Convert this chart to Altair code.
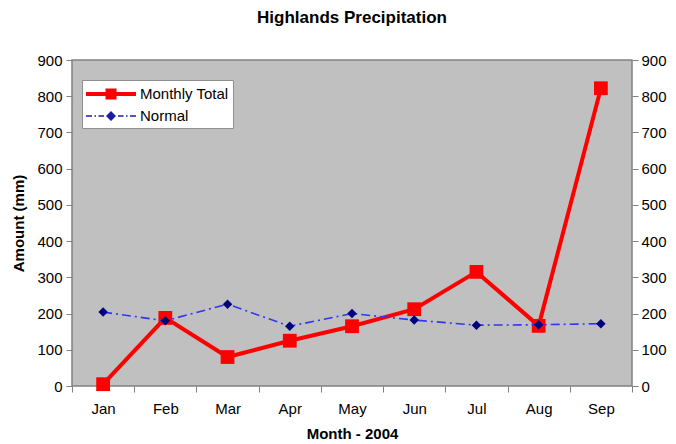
import altair as alt
import pandas as pd

months = ["Jan", "Feb", "Mar", "Apr", "May", "Jun", "Jul", "Aug", "Sep"]
monthly_total = [5, 188, 80, 125, 165, 212, 315, 166, 822]
normal = [204, 180, 226, 165, 200, 182, 168, 169, 172]
series_names = ["Monthly Total", "Normal"]

rows = []
for m, v in zip(months, monthly_total):
    rows.append({"month": m, "series": series_names[0], "value": v})
for m, v in zip(months, normal):
    rows.append({"month": m, "series": series_names[1], "value": v})
df = pd.DataFrame(rows)

FONT = "Liberation Sans"
LBL = 15
ydomain = [0, 900]
yticks = list(range(0, 901, 100))

x_enc = alt.X(
    "month:N", sort=months, title="Month - 2004",
    scale=alt.Scale(type="band", paddingInner=0, paddingOuter=0),
    axis=alt.Axis(tickBand="extent", labelAngle=0, labelFontSize=LBL, labelFont=FONT,
                  labelColor="black", titleFont=FONT, titleFontSize=15, titleFontWeight="bold",
                  titleColor="black", tickColor="#808080", tickSize=6, domain=False,
                  labelPadding=9, titlePadding=10, grid=False),
)

def y_enc(axis):
    return alt.Y("value:Q", scale=alt.Scale(domain=ydomain, nice=False, zero=True), axis=axis)

left_axis = alt.Axis(values=yticks, title="Amount (mm)", labelFontSize=LBL, labelFont=FONT,
                     labelColor="black", titleFont=FONT, titleFontSize=15, titleFontWeight="bold",
                     titleColor="black", tickColor="#808080", tickSize=6, domain=False,
                     labelPadding=4, titlePadding=10, grid=False)
right_axis = alt.Axis(values=yticks, orient="right", title=None, labelFontSize=LBL, labelFont=FONT,
                      labelColor="black", tickColor="#808080", tickSize=6, domain=False,
                      labelPadding=3, grid=False)

base = alt.Chart(df)
tot = base.transform_filter(alt.datum.series == series_names[0])
nor = base.transform_filter(alt.datum.series == series_names[1])

red_line = tot.mark_line(color="#ff0000", strokeWidth=4).encode(x=x_enc, y=y_enc(left_axis))
red_pts = tot.mark_square(color="#ff0000", size=190, opacity=1).encode(x=x_enc, y=y_enc(None))
blue_line = nor.mark_line(color="#3535f0", strokeWidth=1.6, strokeDash=[9, 4, 2, 4]).encode(
    x=x_enc, y=y_enc(None))
blue_pts = nor.mark_point(shape="diamond", filled=True, color="#000080", size=90, opacity=1).encode(
    x=x_enc, y=y_enc(None))

red_sym = ("M-2.5,-0.2H2.5V0.2H-2.5Z M-0.55,-0.55H0.55V0.55H-0.55Z")
blue_sym = ("M-2.5,-0.08H-1.9V0.08H-2.5Z M-1.65,-0.08H-1.5V0.08H-1.65Z "
            "M-1.25,-0.08H-0.7V0.08H-1.25Z M0,-0.5L0.5,0L0,0.5L-0.5,0Z "
            "M0.7,-0.08H1.25V0.08H0.7Z M1.5,-0.08H1.65V0.08H1.5Z M1.9,-0.08H2.5V0.08H1.9Z")

def legend():
    return alt.Legend(title=None, orient="none", legendX=10, legendY=20,
                      fillColor="white", strokeColor="#909090", padding=4,
                      symbolSize=400, symbolOpacity=1, symbolOffset=15,
                      labelOffset=19, rowPadding=4, labelFontSize=15,
                      labelFont=FONT, labelColor="black", symbolStrokeWidth=0)

legend_layer = base.mark_point(filled=True, opacity=0).encode(
    x=x_enc,
    y=y_enc(right_axis),
    color=alt.Color("series:N", scale=alt.Scale(domain=series_names, range=["#ff0000", "#1c1ca8"]),
                    legend=legend()),
    shape=alt.Shape("series:N", scale=alt.Scale(domain=series_names, range=[red_sym, blue_sym]),
                    legend=legend()),
)

chart = alt.layer(red_line, red_pts, blue_line, blue_pts, legend_layer).resolve_scale(
    y="independent"
).properties(
    width=560, height=326,
    title=alt.Title("Highlands Precipitation", font=FONT, fontSize=17, fontWeight="bold",
                    color="black", anchor="middle", offset=26),
    autosize=alt.AutoSizeParams(type="none"),
    padding={"left": 64, "top": 52, "right": 36, "bottom": 56},
    background="white",
).configure_view(
    fill="#c0c0c0", stroke="#808080", strokeWidth=1.5
)

chart.save("out.html", embed_options={"renderer": "svg", "actions": False})
